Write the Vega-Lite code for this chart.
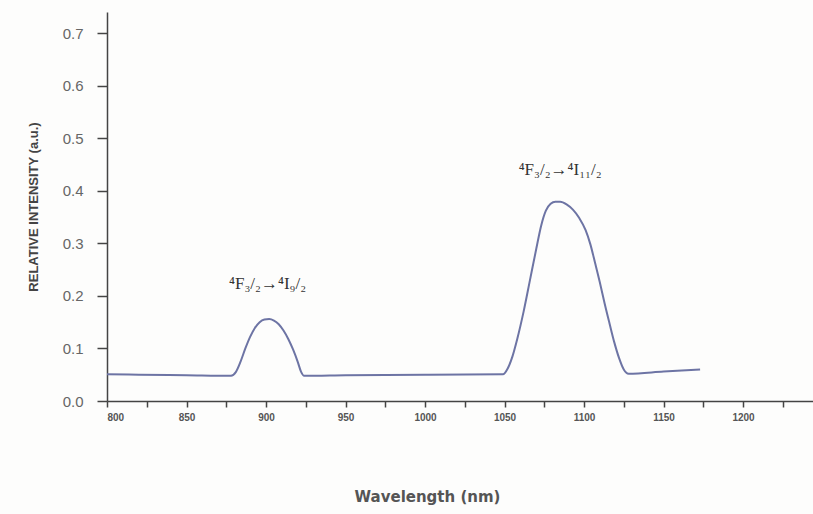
{
  "$schema": "https://vega.github.io/schema/vega-lite/v6.json",
  "width": 706,
  "height": 389,
  "autosize": "none",
  "padding": {"left": 107, "top": 12, "right": 0, "bottom": 113},
  "background": "#fdfdfc",
  "config": {"view": {"stroke": null}},
  "layer": [
    {
      "data": {"values": [
        {"nm": 800, "v": 0.051}, {"nm": 820, "v": 0.050}, {"nm": 850, "v": 0.049}, {"nm": 878, "v": 0.048},
        {"nm": 881, "v": 0.055}, {"nm": 884, "v": 0.075}, {"nm": 887, "v": 0.100}, {"nm": 890, "v": 0.122},
        {"nm": 893, "v": 0.139}, {"nm": 896, "v": 0.150}, {"nm": 899, "v": 0.155}, {"nm": 902, "v": 0.156},
        {"nm": 905, "v": 0.153}, {"nm": 908, "v": 0.146}, {"nm": 911, "v": 0.134}, {"nm": 914, "v": 0.118},
        {"nm": 917, "v": 0.098}, {"nm": 920, "v": 0.074}, {"nm": 922, "v": 0.056}, {"nm": 924, "v": 0.048},
        {"nm": 950, "v": 0.049}, {"nm": 1000, "v": 0.050}, {"nm": 1049, "v": 0.051},
        {"nm": 1052, "v": 0.062}, {"nm": 1055, "v": 0.085}, {"nm": 1058, "v": 0.118}, {"nm": 1062, "v": 0.17},
        {"nm": 1066, "v": 0.23}, {"nm": 1070, "v": 0.29}, {"nm": 1073, "v": 0.333}, {"nm": 1076, "v": 0.362},
        {"nm": 1079, "v": 0.375}, {"nm": 1082, "v": 0.379}, {"nm": 1085, "v": 0.379}, {"nm": 1089, "v": 0.374},
        {"nm": 1093, "v": 0.364}, {"nm": 1097, "v": 0.348}, {"nm": 1101, "v": 0.325}, {"nm": 1104, "v": 0.298},
        {"nm": 1107, "v": 0.262}, {"nm": 1110, "v": 0.225}, {"nm": 1113, "v": 0.185}, {"nm": 1116, "v": 0.148},
        {"nm": 1119, "v": 0.112}, {"nm": 1122, "v": 0.082}, {"nm": 1125, "v": 0.060}, {"nm": 1128, "v": 0.052},
        {"nm": 1150, "v": 0.056}, {"nm": 1173, "v": 0.060}
      ]},
      "mark": {"type": "line", "interpolate": "monotone", "color": "#6d74a4", "strokeWidth": 2},
      "encoding": {
        "x": {
          "field": "nm", "type": "quantitative",
          "scale": {"domain": [800, 1244], "nice": false, "zero": false},
          "axis": {
            "title": "Wavelength (nm)",
            "values": [800, 825, 850, 875, 900, 925, 950, 975, 1000, 1025, 1050, 1075, 1100, 1125, 1150, 1175, 1200, 1225],
            "labelExpr": "datum.value % 50 == 0 ? datum.value : ''",
            "grid": false,
            "domainColor": "#444", "domainWidth": 1.5,
            "tickColor": "#444", "tickSize": 6, "tickWidth": 1.5,
            "labelFont": "Liberation Sans", "labelFontSize": 10, "labelFontWeight": "bold", "labelColor": "#555",
            "labelPadding": 5,
            "titleFont": "DejaVu Sans", "titleFontSize": 15, "titleFontWeight": "bold", "titleColor": "#555",
            "titlePadding": 67, "titleX": 320
          }
        },
        "y": {
          "field": "v", "type": "quantitative",
          "scale": {"domain": [0, 0.74], "nice": false},
          "axis": {
            "title": "RELATIVE INTENSITY (a.u.)",
            "values": [0, 0.05, 0.1, 0.15, 0.2, 0.25, 0.3, 0.35, 0.4, 0.45, 0.5, 0.55, 0.6, 0.65, 0.7],
            "labelExpr": "round(datum.value * 100) % 10 == 0 ? format(datum.value, '.1f') : ''",
            "grid": false,
            "domainColor": "#444", "domainWidth": 1.5,
            "tickColor": "#444", "tickSize": 10, "tickWidth": 1.5,
            "labelFont": "Liberation Sans", "labelFontSize": 15, "labelColor": "#666",
            "labelPadding": 14,
            "titleFont": "Liberation Sans", "titleFontSize": 13, "titleFontWeight": "bold", "titleColor": "#444",
            "titlePadding": 22
          }
        }
      }
    },
    {
      "data": {"values": [
        {"nm": 901, "v": 0.222, "label": "⁴F₃/₂→⁴I₉/₂"},
        {"nm": 1085, "v": 0.44, "label": "⁴F₃/₂→⁴I₁₁/₂"}
      ]},
      "mark": {"type": "text", "font": "Liberation Serif", "fontSize": 17, "color": "#333", "baseline": "middle", "align": "center"},
      "encoding": {
        "x": {"field": "nm", "type": "quantitative"},
        "y": {"field": "v", "type": "quantitative"},
        "text": {"field": "label"}
      }
    }
  ]
}
